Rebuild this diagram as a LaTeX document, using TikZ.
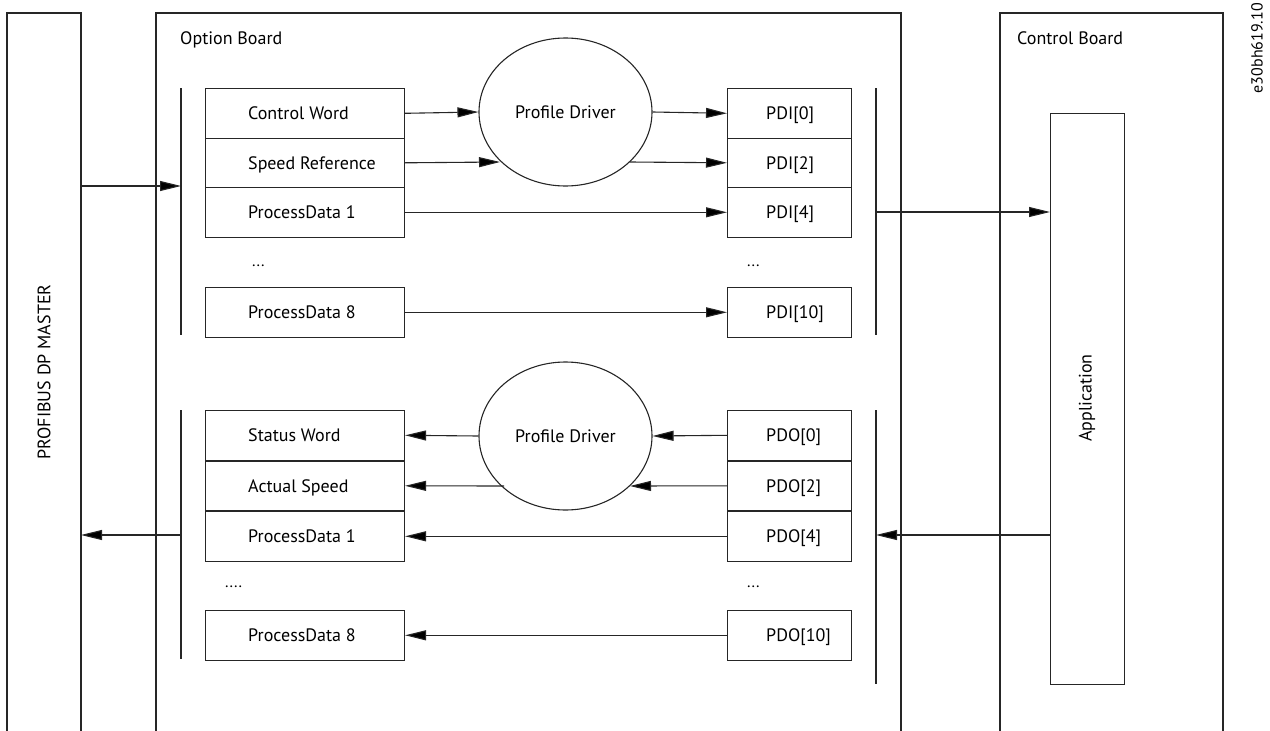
\documentclass[tikz,border=0pt]{standalone}
\usepackage{fontspec}
\setmainfont{PT Sans}
\usetikzlibrary{arrows.meta,shapes.geometric}
\begin{document}
\begin{tikzpicture}[x=1pt,y=-1pt,
  txt/.style={font=\fontsize{18}{20}\selectfont},
  line/.style={draw=black!85,line width=1.1pt},
  cell/.style={line,minimum width=199pt,minimum height=49.5pt,inner sep=0pt,anchor=north west},
  pcell/.style={line,minimum width=124pt,minimum height=49.5pt,inner sep=0pt,anchor=north west},
  ctext/.style={txt,inner sep=0pt,anchor=base west},
  drv/.style={line,txt,ellipse,minimum width=173pt,minimum height=148pt,inner sep=0pt},
  arr/.style={line,-{Triangle[length=21pt,width=10pt,fill=black]}},
  lbl/.style={txt,inner sep=0pt},
  dots/.style={font=\fontsize{16}{18}\selectfont,inner sep=0pt}]
\useasboundingbox (0,0) rectangle (1270,731);
% outer boards (open at bottom)
\draw[line] (7,731) -- (7,13) -- (81,13) -- (81,731);
\draw[line,line width=1.6pt] (156,731) -- (156,13) -- (901,13) -- (901,731);
\draw[line] (1000,731) -- (1000,13) -- (1223,13) -- (1223,731);
\node[ctext] (ob) at (180,44.3) {Option Board};
\node[ctext] (cb) at (1017,44.3) {Control Board};
\node[lbl,rotate=90] (pm) at (44,372) {PROFIBUS DP MASTER};
\node[font=\fontsize{16}{18}\selectfont,inner sep=0pt,rotate=90,anchor=east] (id) at (1257,3) {e30bh619.10};
% application
\node[line,minimum width=74pt,minimum height=571pt,inner sep=0pt,anchor=north west] (app) at (1050,113) {};
\node[lbl,rotate=90] (apptxt) at (1087,398) {Application};
% bars
\coordinate (bl1t) at (181,88); \coordinate (bl1b) at (181,335);
\coordinate (br1t) at (876,88); \coordinate (br1b) at (876,335);
\coordinate (bl2t) at (181,410); \coordinate (bl2b) at (181,659);
\coordinate (br2t) at (876,410); \coordinate (br2b) at (876,684);
\draw[line] (bl1t) -- (bl1b); \draw[line] (br1t) -- (br1b);
\draw[line] (bl2t) -- (bl2b); \draw[line] (br2t) -- (br2b);
% upper left cells
\node[cell] (cw) at (205,88) {};
\node[cell] (sr) at (205,137.5) {};
\node[cell] (pd1) at (205,187) {};
\node[cell] (pd8) at (205,287) {};
\node[ctext] (cwt) at ([xshift=43pt,yshift=-6.5pt]cw.west) {Control Word};
\node[ctext] (srt) at ([xshift=43pt,yshift=-6.5pt]sr.west) {Speed Reference};
\node[ctext] (pd1t) at ([xshift=43pt,yshift=-6.5pt]pd1.west) {ProcessData 1};
\node[ctext] (pd8t) at ([xshift=43pt,yshift=-6.5pt]pd8.west) {ProcessData 8};
\node[dots,anchor=base west] (d1) at (252,266) {...};
% upper right cells
\node[pcell] (pi0) at (727,88) {};
\node[pcell] (pi2) at (727,137.5) {};
\node[pcell] (pi4) at (727,187) {};
\node[pcell] (pi10) at (727,287) {};
\node[ctext] (pi0t) at ([xshift=39pt,yshift=-6.5pt]pi0.west) {PDI[0]};
\node[ctext] (pi2t) at ([xshift=39pt,yshift=-6.5pt]pi2.west) {PDI[2]};
\node[ctext] (pi4t) at ([xshift=39pt,yshift=-6.5pt]pi4.west) {PDI[4]};
\node[ctext] (pi10t) at ([xshift=39pt,yshift=-6.5pt]pi10.west) {PDI[10]};
\node[dots,anchor=base west] (d2) at (747,266) {...};
\node[drv] (pd) at (565.5,112) {Profile Driver};
% lower left cells
\node[cell] (sw) at (205,410) {};
\node[cell] (as) at (205,460.5) {};
\node[cell] (po1) at (205,511) {};
\node[cell] (po8) at (205,610) {};
\node[ctext] (swt) at ([xshift=43pt,yshift=-6.5pt]sw.west) {Status Word};
\node[ctext] (ast) at ([xshift=43pt,yshift=-6.5pt]as.west) {Actual Speed};
\node[ctext] (po1t) at ([xshift=43pt,yshift=-6.5pt]po1.west) {ProcessData 1};
\node[ctext] (po8t) at ([xshift=43pt,yshift=-6.5pt]po8.west) {ProcessData 8};
\node[dots,anchor=base west] (d3) at (225,587) {....};
% lower right cells
\node[pcell] (po0) at (727,410) {};
\node[pcell] (pq2) at (727,460.5) {};
\node[pcell] (pq4) at (727,511) {};
\node[pcell] (pq10) at (727,610) {};
\node[ctext] (po0t) at ([xshift=39pt,yshift=-6.5pt]po0.west) {PDO[0]};
\node[ctext] (pq2t) at ([xshift=39pt,yshift=-6.5pt]pq2.west) {PDO[2]};
\node[ctext] (pq4t) at ([xshift=39pt,yshift=-6.5pt]pq4.west) {PDO[4]};
\node[ctext] (pq10t) at ([xshift=39pt,yshift=-6.5pt]pq10.west) {PDO[10]};
\node[dots,anchor=base west] (d4) at (747,587) {...};
\node[drv] (pdl) at (565.5,436) {Profile Driver};
% upper arrows
\coordinate (in1) at (81,186);
\draw[arr] (in1) -- (181,186);
\draw[arr] (cw.east) -- (pd.west);
\coordinate (sre) at (500,162);
\draw[arr] (sr.east) -- (sre);
\draw[arr] (pd.east) -- (pi0.west);
\coordinate (pds) at (630,162);
\draw[arr] (pds) -- (pi2.west);
\draw[arr] (pd1.east) -- (pi4.west);
\draw[arr] (pd8.east) -- (pi10.west);
\coordinate (bro) at (876,212);
\draw[arr] (bro) -- (app.west |- bro);
% lower arrows
\draw[arr] (po0.west) -- (pdl.east);
\draw[arr] (pdl.west) -- (sw.east);
\coordinate (pq2e) at (630,486);
\draw[arr] (pq2.west) -- (pq2e);
\coordinate (asl) at (504,486);
\draw[arr] (asl) -- (as.east);
\draw[arr] (pq4.west) -- (po1.east);
\draw[arr] (pq10.west) -- (po8.east);
\coordinate (appo) at (1050,535);
\draw[arr] (appo) -- (876,535);
\coordinate (blo) at (181,535);
\draw[arr] (blo) -- (81,535);
\end{tikzpicture}
\end{document}
